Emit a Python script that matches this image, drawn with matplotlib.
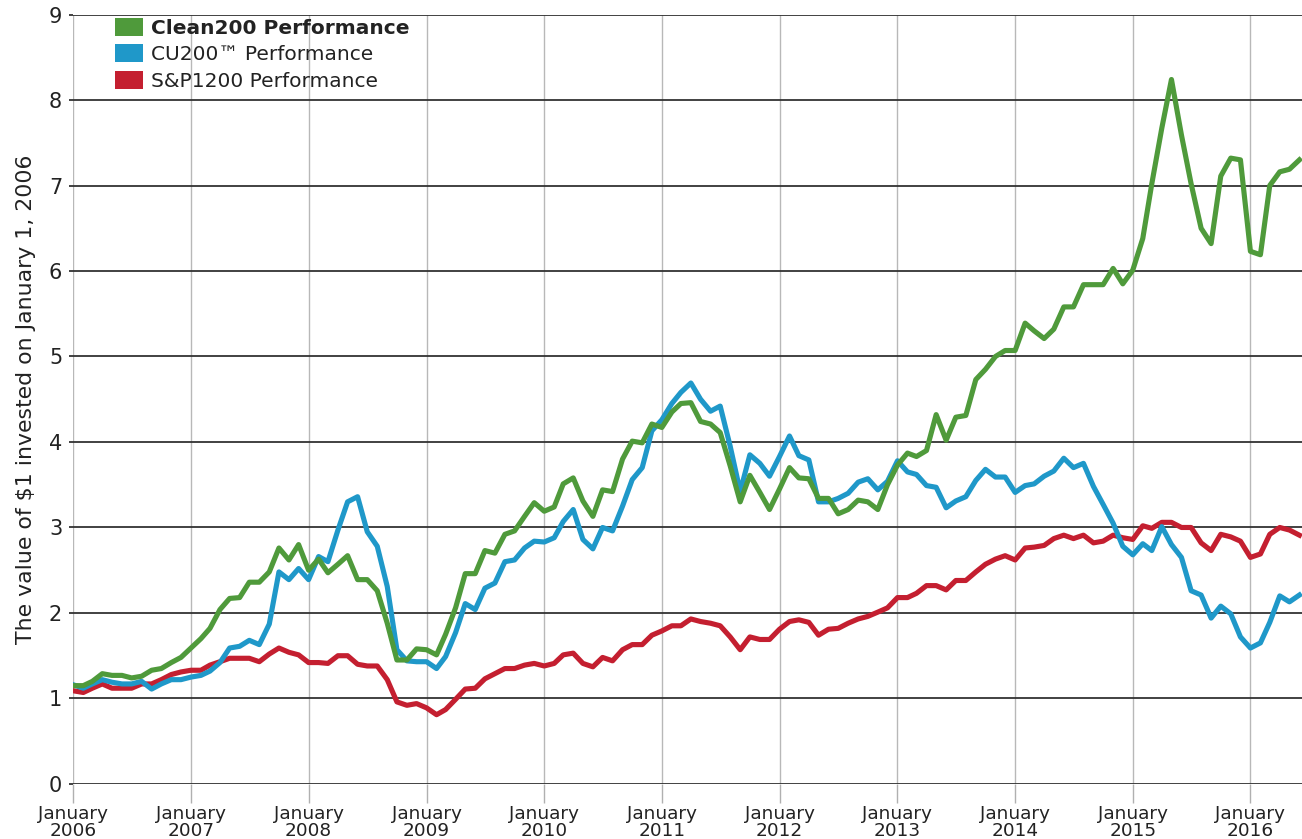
import numpy as np
import pandas as pd
import matplotlib
matplotlib.use("Agg")
import matplotlib.pyplot as plt
from matplotlib.patches import Patch

plt.rcParams["font.family"] = ["DejaVu Sans"]

# monthly values, Jan 2006 .. Jun 2016
months = pd.date_range("2006-01-01", periods=126, freq="MS")

clean200 = [
    1.15, 1.15, 1.20, 1.29, 1.27, 1.27, 1.24, 1.26, 1.33, 1.35, 1.42, 1.48,
    1.59, 1.70, 1.82, 2.04, 2.17, 2.18, 2.36, 2.36, 2.48, 2.76, 2.62, 2.80,
    2.50, 2.63, 2.47, 2.57, 2.67, 2.39, 2.39, 2.26, 1.88, 1.45, 1.45, 1.58,
    1.57, 1.51, 1.75, 2.06, 2.46, 2.46, 2.73, 2.70, 2.92, 2.96, 3.13, 3.29,
    3.19, 3.24, 3.51, 3.58, 3.31, 3.13, 3.44, 3.42, 3.80, 4.01, 3.99, 4.21,
    4.17, 4.35, 4.45, 4.46, 4.24, 4.21, 4.11, 3.72, 3.30, 3.61, 3.41, 3.21,
    3.45, 3.70, 3.58, 3.57, 3.34, 3.34, 3.16, 3.21, 3.32, 3.30, 3.21, 3.50,
    3.73, 3.87, 3.83, 3.90, 4.32, 4.02, 4.29, 4.31, 4.73, 4.85, 5.00, 5.07,
    5.07, 5.39, 5.30, 5.21, 5.32, 5.58, 5.58, 5.84, 5.84, 5.84, 6.03, 5.85,
    6.01, 6.38, 7.02, 7.67, 8.24, 7.59, 7.02, 6.50, 6.32, 7.11, 7.32, 7.30,
    6.23, 6.19, 7.00, 7.16, 7.19, 7.30,
]

cu200 = [
    1.16, 1.12, 1.17, 1.22, 1.19, 1.17, 1.17, 1.20, 1.11, 1.17, 1.22, 1.22,
    1.25, 1.27, 1.32, 1.42, 1.59, 1.61, 1.68, 1.63, 1.87, 2.48, 2.39, 2.52,
    2.39, 2.66, 2.60, 2.97, 3.30, 3.36, 2.95, 2.78, 2.31, 1.57, 1.44, 1.43,
    1.43, 1.35, 1.49, 1.77, 2.11, 2.04, 2.29, 2.35, 2.60, 2.62, 2.76, 2.84,
    2.83, 2.88, 3.07, 3.21, 2.86, 2.75, 3.00, 2.96, 3.25, 3.56, 3.70, 4.13,
    4.26, 4.45, 4.58, 4.69, 4.50, 4.36, 4.42, 3.95, 3.42, 3.85, 3.75, 3.60,
    3.83, 4.07, 3.84, 3.79, 3.30, 3.30, 3.34, 3.40, 3.53, 3.57, 3.44, 3.54,
    3.78, 3.65, 3.62, 3.49, 3.47, 3.23, 3.31, 3.36, 3.55, 3.68, 3.59, 3.59,
    3.41, 3.49, 3.51, 3.60, 3.66, 3.81, 3.70, 3.75, 3.48, 3.27, 3.05, 2.78,
    2.68, 2.81, 2.73, 3.01, 2.80, 2.65, 2.26, 2.21, 1.94, 2.08, 1.99, 1.72,
    1.59, 1.65, 1.89, 2.20, 2.13, 2.21,
]

sp1200 = [
    1.09, 1.07, 1.12, 1.17, 1.12, 1.12, 1.12, 1.17, 1.17, 1.22, 1.28, 1.31,
    1.33, 1.33, 1.39, 1.43, 1.47, 1.47, 1.47, 1.43, 1.52, 1.59, 1.54, 1.51,
    1.42, 1.42, 1.41, 1.50, 1.50, 1.40, 1.38, 1.38, 1.22, 0.96, 0.92, 0.94,
    0.89, 0.81, 0.87, 0.99, 1.11, 1.12, 1.23, 1.29, 1.35, 1.35, 1.39, 1.41,
    1.38, 1.41, 1.51, 1.53, 1.41, 1.37, 1.48, 1.44, 1.57, 1.63, 1.63, 1.74,
    1.79, 1.85, 1.85, 1.93, 1.90, 1.88, 1.85, 1.72, 1.57, 1.72, 1.69, 1.69,
    1.81, 1.90, 1.92, 1.89, 1.74, 1.81, 1.82, 1.88, 1.93, 1.96, 2.01, 2.06,
    2.18, 2.18, 2.23, 2.32, 2.32, 2.27, 2.38, 2.38, 2.48, 2.57, 2.63, 2.67,
    2.62, 2.76, 2.77, 2.79, 2.87, 2.91, 2.87, 2.91, 2.82, 2.84, 2.91, 2.88,
    2.86, 3.02, 2.99, 3.06, 3.06, 3.00, 3.00, 2.82, 2.73, 2.92, 2.89, 2.84,
    2.65, 2.69, 2.92, 3.00, 2.97, 2.91,
]

series_names = ["Clean200 Performance", "CU200\u2122 Performance", "S&P1200 Performance"]
series_colors = ["#4f9a3b", "#1f98c9", "#c41f30"]

year_ticks = pd.date_range("2006-01-01", "2016-01-01", freq="YS")
year_labels = ["January\n" + str(d.year) for d in year_ticks]

fig = plt.figure(figsize=(13.02, 8.39), dpi=100)
ax = fig.add_axes([0.0563, 0.0656, 0.9437, 0.9171])

# red first, green on top
ax.plot(months, sp1200, color=series_colors[2], lw=3.7, zorder=3)
ax.plot(months, cu200, color=series_colors[1], lw=3.7, zorder=4)
ax.plot(months, clean200, color=series_colors[0], lw=3.7, zorder=5)

ax.set_ylim(0, 9)
ax.set_xlim(months[0], pd.Timestamp("2016-06-09"))
ax.set_yticks(range(0, 10))
ax.set_xticks(year_ticks)
ax.set_xticklabels(year_labels, fontsize=13.3, linespacing=0.95, color="#222222")
ax.tick_params(axis="y", labelsize=15, length=3, width=1.3, color="#333333",
               pad=5, labelcolor="#222222")
ax.tick_params(axis="x", length=14, width=1, color="#b0b0b0", pad=1)

ax.grid(axis="y", color="#333333", lw=1.3, zorder=1)
ax.grid(axis="x", color="#b8b8b8", lw=1.0, zorder=1)
for s in ax.spines.values():
    s.set_visible(False)

ax.set_ylabel("The value of $1 invested on January 1, 2006", fontsize=15.8,
              color="#222222", labelpad=9)

handles = [Patch(facecolor=c, edgecolor="none") for c in series_colors]
leg = ax.legend(handles, series_names, loc="upper left", bbox_to_anchor=(0.027, 1.006),
                frameon=False, fontsize=14.5, handlelength=1.4, handleheight=1.0,
                handletextpad=0.4, labelspacing=0.32, borderaxespad=0)
leg.get_texts()[0].set_fontweight("bold")
for t in leg.get_texts():
    t.set_color("#222222")

fig.savefig("out.png", dpi=100)
